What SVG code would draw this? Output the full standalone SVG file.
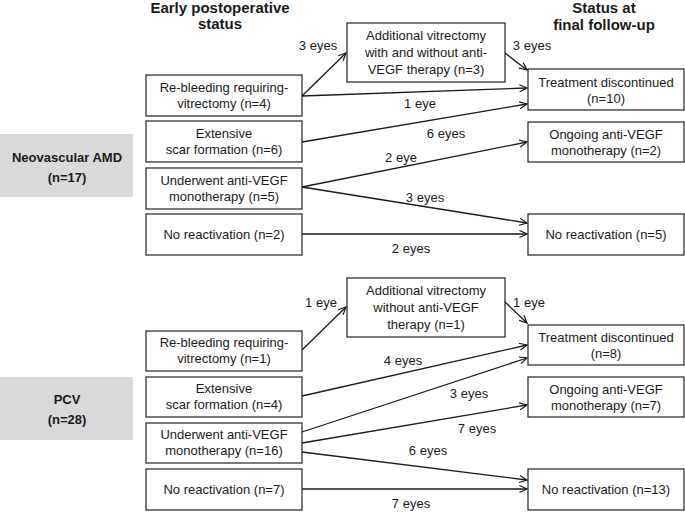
<svg xmlns="http://www.w3.org/2000/svg" width="685" height="512" viewBox="0 0 685 512">
<defs>
<marker id="arr" markerUnits="userSpaceOnUse" markerWidth="10" markerHeight="10" refX="8" refY="4" orient="auto">
<path d="M0.5,0.5 L8,4 L0.5,7.5" fill="none" stroke="#1a1a1a" stroke-width="1.2"/>
</marker>
<style>
.t{font-family:"Liberation Sans",Arial,sans-serif;font-size:13px;fill:#1a1a1a;text-anchor:middle}
.h{font-family:"Liberation Sans",Arial,sans-serif;font-size:15px;font-weight:bold;fill:#1a1a1a;text-anchor:middle}
.g{font-family:"Liberation Sans",Arial,sans-serif;font-size:13px;font-weight:bold;fill:#1a1a1a;text-anchor:middle}
.b{fill:#fff;stroke:#333;stroke-width:1.3}
.gb{fill:#d9d9d9;stroke:none}
.c{stroke:#1a1a1a;stroke-width:1.3;fill:none;marker-end:url(#arr)}
</style>
</defs>
<rect width="685" height="512" fill="#fff"/>

<g id="titles">
<text class="h" x="220" y="13">Early postoperative</text>
<text class="h" x="220" y="29">status</text>
<text class="h" x="604" y="13">Status at</text>
<text class="h" x="604" y="30">final follow-up</text>
</g>

<g id="amd-group">
<rect class="gb" x="0" y="134" width="133" height="63"/>
<text class="g" x="67" y="162">Neovascular AMD</text>
<text class="g" x="67" y="182">(n=17)</text>
</g>
<g id="amd-rebleed"><rect class="b" x="146" y="75" width="156" height="41"/><text class="t" x="224" y="92">Re-bleeding requiring-</text><text class="t" x="224" y="108">vitrectomy (n=4)</text></g>
<g id="amd-scar"><rect class="b" x="146" y="121" width="156" height="41"/><text class="t" x="224" y="138">Extensive</text><text class="t" x="224" y="154">scar formation (n=6)</text></g>
<g id="amd-antivegf"><rect class="b" x="146" y="168" width="156" height="41"/><text class="t" x="224" y="185">Underwent anti-VEGF</text><text class="t" x="224" y="201">monotherapy (n=5)</text></g>
<g id="amd-noreact"><rect class="b" x="146" y="214" width="156" height="41"/><text class="t" x="224" y="239">No reactivation (n=2)</text></g>
<g id="amd-addvit"><rect class="b" x="347" y="23" width="158" height="59"/><text class="t" x="426" y="40">Additional vitrectomy</text><text class="t" x="426" y="57">with and without anti-</text><text class="t" x="426" y="74">VEGF therapy (n=3)</text></g>
<g id="amd-disc"><rect class="b" x="528" y="69" width="156" height="41"/><text class="t" x="606" y="87">Treatment discontinued</text><text class="t" x="606" y="103">(n=10)</text></g>
<g id="amd-ongoing"><rect class="b" x="528" y="122" width="156" height="40"/><text class="t" x="606" y="139">Ongoing anti-VEGF</text><text class="t" x="606" y="155">monotherapy (n=2)</text></g>
<g id="amd-final-noreact"><rect class="b" x="528" y="214" width="156" height="41"/><text class="t" x="606" y="239">No reactivation (n=5)</text></g>

<g id="pcv-group">
<rect class="gb" x="0" y="377" width="133" height="63"/>
<text class="g" x="67" y="404">PCV</text>
<text class="g" x="67" y="424">(n=28)</text>
</g>
<g id="pcv-rebleed"><rect class="b" x="146" y="331" width="156" height="40"/><text class="t" x="224" y="347">Re-bleeding requiring-</text><text class="t" x="224" y="363">vitrectomy (n=1)</text></g>
<g id="pcv-scar"><rect class="b" x="146" y="377" width="156" height="40"/><text class="t" x="224" y="393">Extensive</text><text class="t" x="224" y="409">scar formation (n=4)</text></g>
<g id="pcv-antivegf"><rect class="b" x="146" y="423" width="156" height="40"/><text class="t" x="224" y="439">Underwent anti-VEGF</text><text class="t" x="224" y="455">monotherapy (n=16)</text></g>
<g id="pcv-noreact"><rect class="b" x="146" y="469" width="156" height="41"/><text class="t" x="224" y="494">No reactivation (n=7)</text></g>
<g id="pcv-addvit"><rect class="b" x="347" y="278" width="158" height="59"/><text class="t" x="426" y="295">Additional vitrectomy</text><text class="t" x="426" y="312">without anti-VEGF</text><text class="t" x="426" y="329">therapy (n=1)</text></g>
<g id="pcv-disc"><rect class="b" x="528" y="325" width="156" height="40"/><text class="t" x="606" y="342">Treatment discontinued</text><text class="t" x="606" y="358">(n=8)</text></g>
<g id="pcv-ongoing"><rect class="b" x="528" y="377" width="156" height="40"/><text class="t" x="606" y="394">Ongoing anti-VEGF</text><text class="t" x="606" y="410">monotherapy (n=7)</text></g>
<g id="pcv-final-noreact"><rect class="b" x="528" y="469" width="156" height="41"/><text class="t" x="606" y="494">No reactivation (n=13)</text></g>

<g id="connectors">
<line class="c" x1="302" y1="96" x2="346" y2="53"/>
<line class="c" x1="505" y1="53" x2="527" y2="70"/>
<line class="c" x1="302" y1="96" x2="527" y2="88"/>
<line class="c" x1="302" y1="142" x2="527" y2="104"/>
<line class="c" x1="302" y1="187" x2="527" y2="142"/>
<line class="c" x1="302" y1="187" x2="527" y2="223"/>
<line class="c" x1="302" y1="234" x2="527" y2="234"/>

<line class="c" x1="302" y1="350" x2="346" y2="307"/>
<line class="c" x1="505" y1="302" x2="527" y2="323"/>
<line class="c" x1="302" y1="396" x2="527" y2="345"/>
<line class="c" x1="302" y1="432" x2="527" y2="358"/>
<line class="c" x1="302" y1="443" x2="527" y2="405"/>
<line class="c" x1="302" y1="452" x2="527" y2="480"/>
<line class="c" x1="302" y1="489" x2="527" y2="489"/>
</g>

<g id="connector-labels">
<text class="t" x="318" y="50">3 eyes</text>
<text class="t" x="532" y="50">3 eyes</text>
<text class="t" x="420" y="108">1 eye</text>
<text class="t" x="446" y="138">6 eyes</text>
<text class="t" x="401" y="162">2 eye</text>
<text class="t" x="425" y="202">3 eyes</text>
<text class="t" x="411" y="253">2 eyes</text>

<text class="t" x="321" y="307">1 eye</text>
<text class="t" x="529" y="307">1 eye</text>
<text class="t" x="403" y="365">4 eyes</text>
<text class="t" x="469" y="398">3 eyes</text>
<text class="t" x="477" y="433">7 eyes</text>
<text class="t" x="428" y="455">6 eyes</text>
<text class="t" x="411" y="508">7 eyes</text>
</g>
</svg>
